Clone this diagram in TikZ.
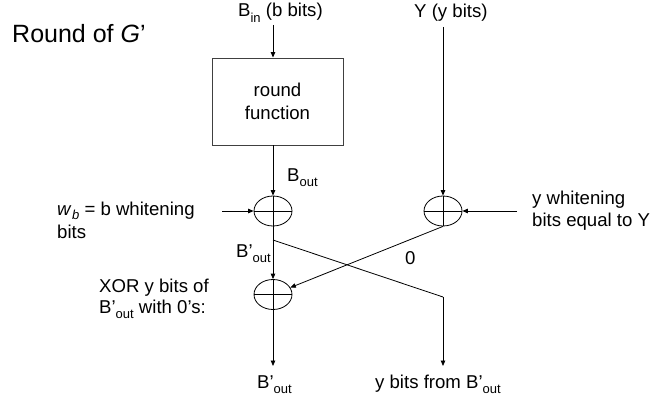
\documentclass[tikz,border=0pt]{standalone}
\usepackage{fontspec}
\setmainfont{Liberation Sans}
\usetikzlibrary{arrows.meta,shapes.geometric}
\newcommand{\lowsub}[2][-0.32em]{\raisebox{#1}[0pt][0pt]{\fontsize{13}{13}\selectfont #2}}
\begin{document}
\begin{tikzpicture}[x=1pt,y=-1pt,
  every node/.style={font=\fontsize{18.6}{21.5}\selectfont, inner sep=0pt},
  lbl/.style={anchor=base west, align=left},
  wire/.style={line width=0.8pt, draw=black},
  arr/.style={wire, -{Triangle[length=5.5pt,width=4.5pt]}},
  xor/.style={ellipse, draw, line width=0.8pt, minimum width=38pt, minimum height=30pt, inner sep=0pt,
    path picture={\draw[line width=0.8pt] (path picture bounding box.north) -- (path picture bounding box.south)
      (path picture bounding box.west) -- (path picture bounding box.east);}},
  rbox/.style={draw=black!75, line width=0.9pt, minimum width=131pt, minimum height=87pt, align=center}
]
\useasboundingbox (0,0) rectangle (650,396);

\node[lbl, font=\fontsize{25}{29}\selectfont] (title) at (12,43) {Round of \textit{G}’};

\node[lbl] (bin) at (238,17) {B\lowsub{in} (b bits)};
\node[lbl] (yin) at (414,18) {Y (y bits)};

\node[rbox] (rf) at (277.5,101.5) {round\\[1pt]function};

\node[xor] (x1) at (273,211) {};
\node[xor] (x2) at (443,211) {};
\node[xor] (x3) at (273,294.5) {};

\coordinate (binend) at (273,25);
\coordinate (yend) at (443,27);
\coordinate (wl) at (222,211);
\coordinate (wr) at (517,211);
\coordinate (split) at (273,240);
\coordinate (corner) at (443,297);
\coordinate (out1) at (273,366);
\coordinate (out2) at (443,366);

\draw[arr] (binend) -- (binend |- rf.north);
\draw[arr] (binend |- rf.south) -- (x1.north);
\draw[arr] (yend) -- (x2.north);
\draw[arr] (wl) -- (x1.west);
\draw[arr] (wr) -- (x2.east);
\draw[arr] (x1.south) -- (x3.north);
\draw[wire] (split) -- (corner);
\draw[arr] (corner) -- (out2);
\draw[arr] (x2.south) -- (x3);
\draw[arr] (x3.south) -- (out1);

\node[lbl] (bout) at (287,181) {B\lowsub{out}};
\node[lbl] (bpmid) at (236,257) {B’\lowsub{out}};
\node[lbl] (zero) at (405,264) {0};
\node[lbl] (wb) at (57,215.5) {\textit{w}\kern0.5pt\lowsub[-0.22em]{\textit{b}} = b whitening};
\node[lbl] (wb2) at (57,238.5) {bits};
\node[lbl] (yw) at (532,204) {y whitening};
\node[lbl] (yw2) at (532,226.5) {bits equal to Y};
\node[lbl] (xorlbl) at (99,292) {XOR y bits of};
\node[lbl] (xorlbl2) at (99,313) {B’\lowsub{out} with 0’s:};
\node[lbl] (bpout) at (257,388) {B’\lowsub{out}};
\node[lbl] (ybits) at (375,388) {y bits from B’\lowsub{out}};
\end{tikzpicture}
\end{document}
